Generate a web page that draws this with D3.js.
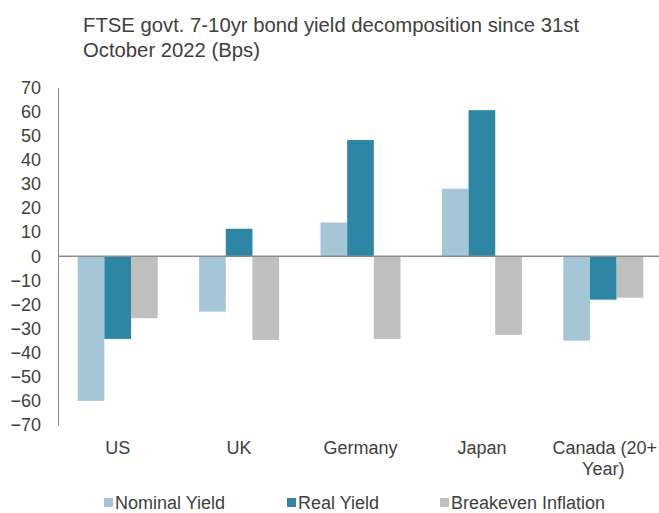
<!DOCTYPE html>
<html>
<head>
<meta charset="utf-8">
<script src="https://cdn.jsdelivr.net/npm/d3@7"></script>
<style>
  body { margin: 0; background: #fff; }
  text { font-family: "Liberation Sans", Arial, sans-serif; fill: #404040; }
</style>
</head>
<body>
<div id="chart"></div>
<script>
// chart data
var categories = ["US", "UK", "Germany", "Japan", "Canada (20+ Year)"];
var seriesNames = ["Nominal Yield", "Real Yield", "Breakeven Inflation"];
var nominalYield = [-60, -23, 14, 28, -35];
var realYield = [-34.3, 11.4, 48.2, 60.6, -18];
var breakevenInflation = [-25.7, -34.7, -34.3, -32.6, -17.2];
var yTicks = [70, 60, 50, 40, 30, 20, 10, 0, -10, -20, -30, -40, -50, -60, -70];

var colors = ["#a4c6d6", "#2c86a4", "#bfbfbf"];
var allSeries = [nominalYield, realYield, breakevenInflation];

var width = 659, height = 513;

var svg = d3.select("#chart").append("svg")
    .attr("width", width)
    .attr("height", height);

var x = d3.scaleBand()
    .domain(categories)
    .range([57, 664])
    .paddingInner(0.341)
    .paddingOuter(0.1705);

var xs = d3.scaleBand()
    .domain(seriesNames)
    .range([0, x.bandwidth()]);

var y = d3.scaleLinear()
    .domain([-70, 70])
    .range([425, 87.5]);

// title
svg.append("text")
    .attr("x", 83).attr("y", 32)
    .style("font-size", "20.3px")
    .text("FTSE govt. 7-10yr bond yield decomposition since 31st");
svg.append("text")
    .attr("x", 83).attr("y", 57)
    .style("font-size", "20.3px")
    .text("October 2022 (Bps)");

// bars
categories.forEach(function(c, i) {
    seriesNames.forEach(function(s, j) {
        var v = allSeries[j][i];
        svg.append("rect")
            .attr("x", x(c) + xs(s))
            .attr("width", xs.bandwidth())
            .attr("y", y(Math.max(0, v)))
            .attr("height", Math.abs(y(v) - y(0)))
            .attr("fill", colors[j]);
    });
});

// y axis
var yAxis = d3.axisLeft(y).tickValues(yTicks).tickSize(0).tickPadding(0);
var ya = svg.append("g").attr("transform", "translate(58,0)").call(yAxis);
ya.select(".domain").attr("stroke", "#8c8c8c");
ya.selectAll("text")
    .attr("x", -17)
    .style("font-size", "18px")
    .style("font-family", "Liberation Sans, Arial, sans-serif")
    .attr("fill", "#404040");

// zero line
svg.append("line")
    .attr("x1", 58).attr("x2", width)
    .attr("y1", y(0)).attr("y2", y(0))
    .attr("stroke", "#8c8c8c")
    .attr("stroke-width", 1.5);

// category labels
categories.forEach(function(c) {
    var cx = x(c) + x.bandwidth() / 2;
    if (c.indexOf("Canada") === 0) {
        svg.append("text").attr("x", 657).attr("y", 454)
            .attr("text-anchor", "end").style("font-size", "18px").text("Canada (20+");
        svg.append("text").attr("x", cx).attr("y", 475)
            .attr("text-anchor", "middle").style("font-size", "18px").text("Year)");
    } else {
        svg.append("text").attr("x", cx).attr("y", 454)
            .attr("text-anchor", "middle").style("font-size", "18px").text(c);
    }
});

// legend
var legendX = [104, 287, 440];
seriesNames.forEach(function(s, j) {
    svg.append("rect")
        .attr("x", legendX[j]).attr("y", 498)
        .attr("width", 9).attr("height", 9)
        .attr("fill", colors[j]);
    svg.append("text")
        .attr("x", legendX[j] + 11).attr("y", 509)
        .style("font-size", "18px")
        .text(s);
});
</script>
</body>
</html>
